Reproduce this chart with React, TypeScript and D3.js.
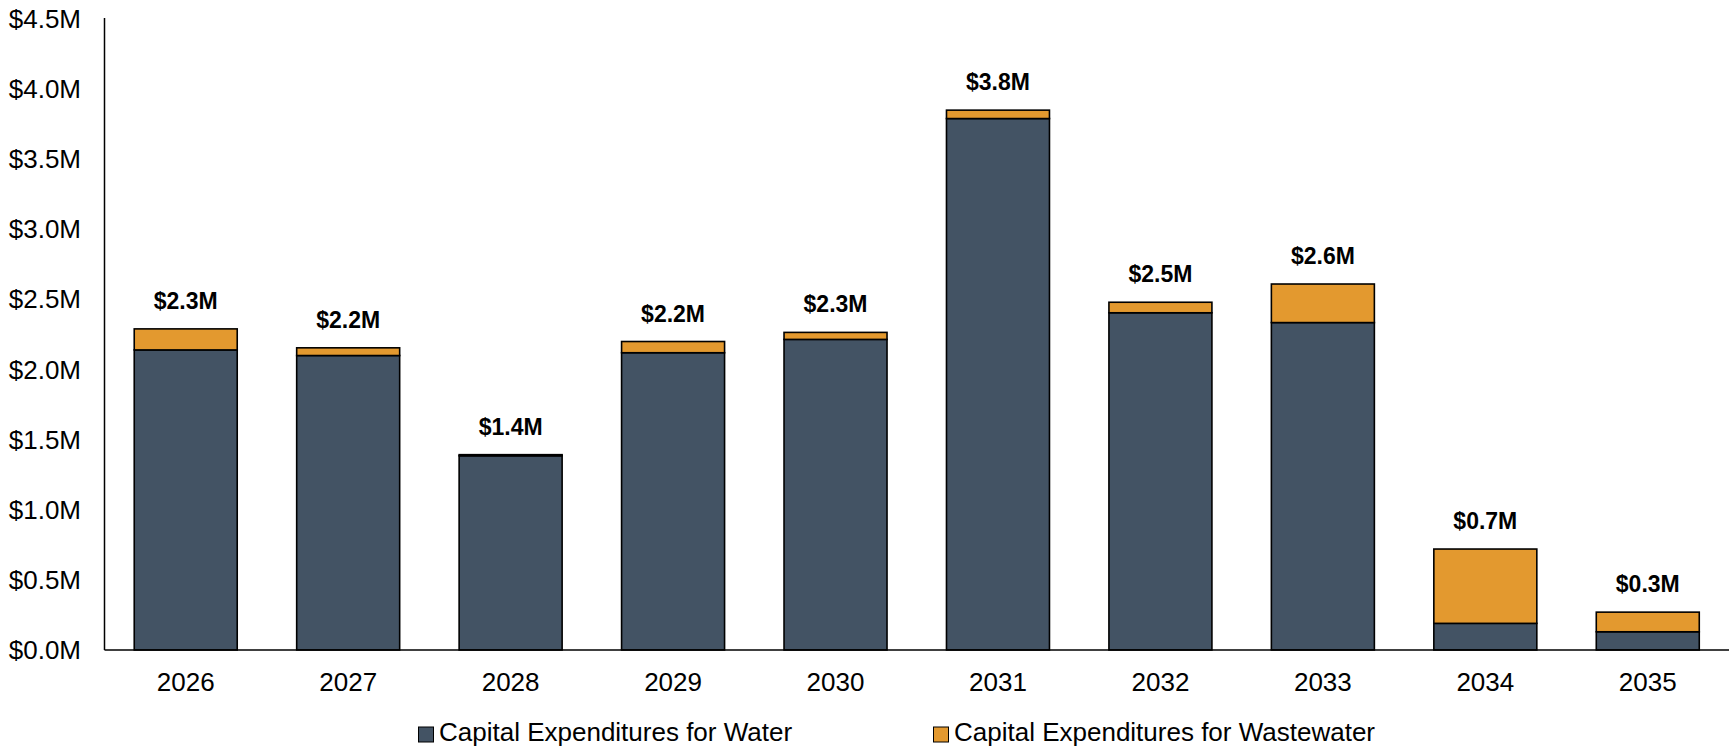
import React from "react";
import * as d3 from "d3";

const years = ["2026", "2027", "2028", "2029", "2030", "2031", "2032", "2033", "2034", "2035"];
const water = [2.14, 2.1, 1.385, 2.12, 2.215, 3.79, 2.405, 2.335, 0.19, 0.13];
const wastewater = [0.15, 0.055, 0.008, 0.08, 0.05, 0.06, 0.075, 0.275, 0.53, 0.14];
const totalLabels = ["$2.3M", "$2.2M", "$1.4M", "$2.2M", "$2.3M", "$3.8M", "$2.5M", "$2.6M", "$0.7M", "$0.3M"];
const yTicks = [0, 0.5, 1, 1.5, 2, 2.5, 3, 3.5, 4, 4.5];
const seriesNames = ["Capital Expenditures for Water", "Capital Expenditures for Wastewater"];
const seriesColors = ["#435364", "#E3992F"];

const W = 1729;
const H = 748;
const left = 104.5;
const right = 1729;
const top = 19;
const bottom = 650;
const font = "Arial, 'Liberation Sans', sans-serif";

export default function App() {
  const x = d3.scaleBand<string>().domain(years).range([left, right]).paddingInner(0.366).paddingOuter(0.183);
  const y = d3.scaleLinear().domain([0, 4.5]).range([bottom, top]);
  const rows = years.map((yr, i) => ({ year: yr, water: water[i], wastewater: wastewater[i] }));
  const stack = d3.stack<any>().keys(["water", "wastewater"])(rows);

  const legendItems = [
    { x: 418.5, name: seriesNames[0], color: seriesColors[0] },
    { x: 933.5, name: seriesNames[1], color: seriesColors[1] },
  ];

  return (
    <svg width={W} height={H} style={{ position: "absolute", left: 0, top: 0, background: "#fff" }} fontFamily={font}>
      {stack.map((layer, li) => (
        <g key={li}>
          {layer.map((d, i) => (
            <rect
              key={i}
              x={x(years[i])!}
              y={y(d[1])}
              width={x.bandwidth()}
              height={Math.max(0, y(d[0]) - y(d[1]))}
              fill={seriesColors[li]}
              stroke="#000"
              strokeWidth={1.6}
            />
          ))}
        </g>
      ))}
      {years.map((yr, i) => (
        <text
          key={yr}
          x={x(yr)! + x.bandwidth() / 2}
          y={y(water[i] + wastewater[i]) - 20}
          textAnchor="middle"
          fontWeight="bold"
          fontSize={23}
          fill="#000"
        >
          {totalLabels[i]}
        </text>
      ))}
      <line x1={left} x2={left} y1={top - 1} y2={bottom} stroke="#000" strokeWidth={1.5} />
      <line x1={left} x2={right} y1={bottom} y2={bottom} stroke="#000" strokeWidth={1.5} />
      {yTicks.map((t) => (
        <text key={t} x={81} y={y(t)} textAnchor="end" dominantBaseline="central" fontSize={26} fill="#000">
          {"$" + t.toFixed(1) + "M"}
        </text>
      ))}
      {years.map((yr) => (
        <text key={yr} x={x(yr)! + x.bandwidth() / 2} y={bottom + 41} textAnchor="middle" fontSize={26} fill="#000">
          {yr}
        </text>
      ))}
      {legendItems.map((l) => (
        <g key={l.name}>
          <rect x={l.x} y={727} width={15} height={15} fill={l.color} stroke="#000" strokeWidth={1} />
          <text x={l.x + 20.5} y={741} fontSize={26} fill="#000">
            {l.name}
          </text>
        </g>
      ))}
    </svg>
  );
}
